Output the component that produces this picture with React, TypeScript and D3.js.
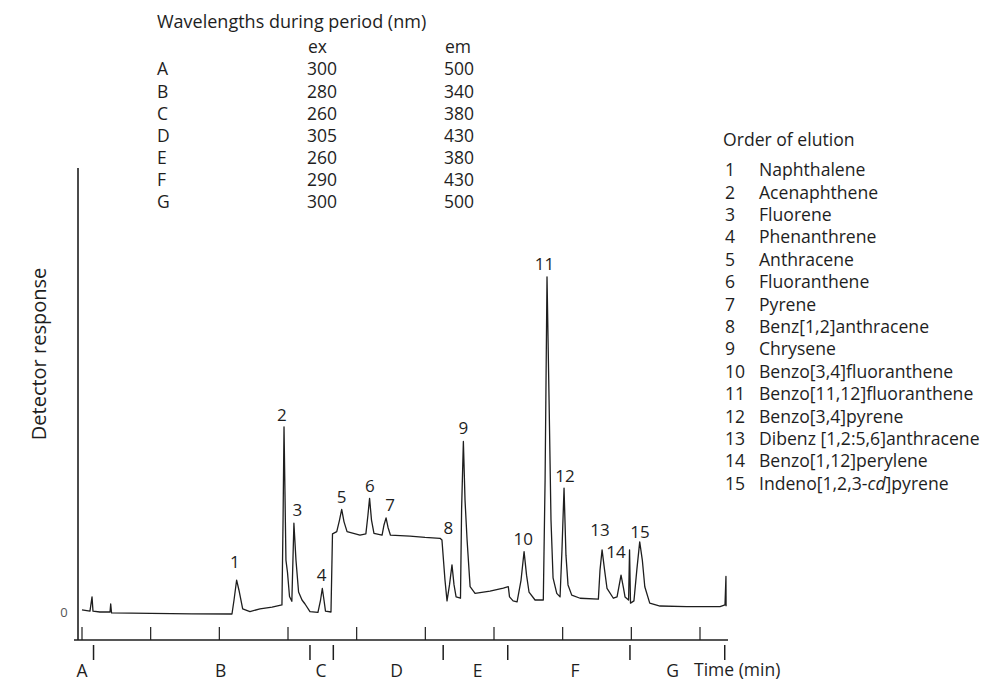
import * as d3 from 'd3';

// wavelength programme
const periods = ['A', 'B', 'C', 'D', 'E', 'F', 'G'];
const exNm = [300, 280, 260, 305, 260, 290, 300];
const emNm = [500, 340, 380, 430, 380, 430, 500];
const periodEnds = [0.84, 16.6, 18.3, 26.3, 31.0, 39.9, 46.8];
const periodLabelTimes = [0, 10.1, 17.4, 22.9, 28.8, 35.9, 43.0];

// elution order
const compounds = [
	'Naphthalene', 'Acenaphthene', 'Fluorene', 'Phenanthrene', 'Anthracene',
	'Fluoranthene', 'Pyrene', 'Benz[1,2]anthracene', 'Chrysene', 'Benzo[3,4]fluoranthene',
	'Benzo[11,12]fluoranthene', 'Benzo[3,4]pyrene', 'Dibenz [1,2:5,6]anthracene',
	'Benzo[1,12]perylene', 'Indeno[1,2,3-cd]pyrene',
];
const peakLabelTimes = [11.14, 14.56, 15.68, 17.45, 18.91, 20.97, 22.43, 26.67, 27.77, 32.13, 33.67, 35.17, 37.72, 38.88, 40.63];
const peakLabelLevels = [11.3, 44.4, 23.0, 8.3, 25.9, 28.4, 24.1, 18.9, 41.4, 16.4, 78.4, 30.6, 18.5, 13.6, 18.1];

const timeTicks = [0, 5, 10, 15, 20, 25, 30, 35, 40, 45];

// detector trace [time (min), response]
const trace: [number, number][] = [
	[0, 0.5], [0.58, 0.2], [0.73, 3.4], [0.8, 0.2], [1.3, 0], [2.04, 0], [2.09, 1.8], [2.15, -0.2], [5, -0.3], [8, -0.4], [10.92, -0.45],
	[11.07, 2.7], [11.26, 7.2], [11.43, 4.9], [11.7, 0.7], [12.23, 0.1], [12.96, 0.7], [13.84, 1.1], [14.56, 1.6],
	[14.64, 20.7], [14.71, 41.7], [14.85, 11.7], [14.96, 9.0], [15.11, 3.5], [15.28, 2.4],
	[15.43, 20.0], [15.58, 11.7], [15.77, 4.5], [16.02, 2.7], [16.24, 1.8], [16.6, 0.1], [17.18, -0.1],
	[17.37, 2.7], [17.5, 5.3], [17.62, 2.7], [17.73, 0.2], [18.13, 0],
	[18.24, 17.6], [18.55, 18.1], [18.75, 20.7], [18.91, 23.1], [19.08, 20.3], [19.3, 18.1], [20.24, 17.3], [20.67, 17.6],
	[20.82, 21.8], [20.94, 25.6], [21.08, 20.7], [21.26, 17.7], [21.85, 17.3],
	[21.99, 19.6], [22.14, 21.2], [22.28, 19.1], [22.46, 17.3], [23.88, 17.1], [24.98, 16.8], [26.07, 16.6], [26.21, 16.2],
	[26.43, 7.2], [26.58, 2.5], [26.76, 6.1], [26.94, 10.6], [27.09, 6.1], [27.24, 3.4], [27.56, 3.1],
	[27.64, 23.0], [27.77, 38.4], [27.89, 25.2], [28.04, 16.2], [28.26, 5.7], [28.62, 4.2], [29.71, 4.7], [30.68, 5.4], [31.04, 5.7],
	[31.13, 3.4], [31.39, 2.5], [31.68, 2.3], [31.97, 7.2], [32.19, 13.6], [32.37, 8.3], [32.55, 4.5], [32.99, 2.7], [33.59, 2.7],
	[33.72, 29.7], [33.86, 75.5], [34.01, 47.7], [34.15, 20.7], [34.3, 7.7], [34.57, 4.2], [34.81, 3.4],
	[34.95, 14.0], [35.1, 27.9], [35.24, 12.8], [35.39, 6.1], [35.66, 3.8], [36.27, 3.1], [37.6, 2.9],
	[37.72, 9.5], [37.87, 14.0], [38.05, 9.5], [38.23, 5.3], [38.69, 3.1], [38.96, 3.4],
	[39.25, 8.3], [39.43, 5.4], [39.54, 3.4], [39.8, 2.7], [39.87, 14.0], [39.94, 2.0], [40.19, 2.5],
	[40.4, 9.5], [40.61, 15.8], [40.8, 11.7], [40.98, 5.7], [41.34, 2.0], [42.09, 1.35], [44.03, 1.2], [46.46, 1.2], [46.82, 1.6],
	[46.89, 8.0], [46.9, 1.3],
];

const W = 984;
const H = 682;
const font = '"Open Sans", "Noto Sans", sans-serif';
const ink = '#1e1e1e';
const axisY = 640;

export default function App() {
	const x = d3.scaleLinear().domain([0, 45]).range([82, 700]);
	const y = d3.scaleLinear().domain([0, 100]).range([612, 168]);

	const line = d3.line<[number, number]>()
		.x(d => x(d[0]))
		.y(d => y(d[1]));

	const rowH = 22.1;
	const legH = 22.4;

	return (
		<svg width={W} height={H} style={{ position: 'absolute', left: 0, top: 0, background: '#fff' }}
			fontFamily={font} fill={ink}>
			{/* wavelength table */}
			<g fontSize={17.5}>
				<text x={157} y={22} dy="0.35em" fontSize={18}>Wavelengths during period (nm)</text>
				<text x={308} y={46.5} dy="0.35em">ex</text>
				<text x={445} y={46.5} dy="0.35em">em</text>
				{periods.map((p, i) => (
					<g key={p}>
						<text x={157} y={69.3 + i * rowH} dy="0.35em">{p}</text>
						<text x={307} y={69.3 + i * rowH} dy="0.35em">{exNm[i]}</text>
						<text x={444} y={69.3 + i * rowH} dy="0.35em">{emNm[i]}</text>
					</g>
				))}
			</g>

			{/* elution legend */}
			<g fontSize={17.6}>
				<text x={723} y={140} dy="0.35em">Order of elution</text>
				{compounds.map((c, i) => (
					<g key={c}>
						<text x={725} y={170 + i * legH} dy="0.35em">{i + 1}</text>
						<text x={759} y={170 + i * legH} dy="0.35em">
							{c.includes('-cd]') ? (<>
								{c.split('cd]')[0]}<tspan fontStyle="italic">cd</tspan>{']' + c.split('cd]')[1]}
							</>) : c}
						</text>
					</g>
				))}
			</g>

			{/* axes */}
			<line x1={78} x2={78} y1={y(100)} y2={axisY} stroke={ink} strokeWidth={1.6} />
			<line x1={74} x2={728} y1={axisY} y2={axisY} stroke={ink} strokeWidth={1.6} />
			{timeTicks.map(t => (
				<line key={t} x1={x(t)} x2={x(t)} y1={axisY - 13} y2={axisY} stroke={ink} strokeWidth={1.2} />
			))}
			{periodEnds.map(t => (
				<line key={t} x1={x(t)} x2={x(t)} y1={axisY + 5} y2={axisY + 20} stroke={ink} strokeWidth={1.5} />
			))}
			<g fontSize={17.5}>
				{periods.map((p, i) => (
					<text key={p} x={x(periodLabelTimes[i])} y={671} dy="0.35em" textAnchor="middle">{p}</text>
				))}
				<text x={694} y={670} dy="0.35em" fontSize={17.5}>Time (min)</text>
			</g>
			<text x={64} y={y(0)} dy="0.35em" fontSize={13} textAnchor="middle" fill="#555">0</text>
			<text transform={`translate(39,${354}) rotate(-90)`} dy="0.35em" fontSize={20} textAnchor="middle">Detector response</text>

			{/* chromatogram */}
			<path d={line(trace) ?? ''} fill="none" stroke={ink} strokeWidth={1.3} strokeLinejoin="round" />
			<g fontSize={17} textAnchor="middle">
				{peakLabelTimes.map((t, i) => (
					<text key={i} x={x(t)} y={y(peakLabelLevels[i])} dy="0.35em">{i + 1}</text>
				))}
			</g>
		</svg>
	);
}
